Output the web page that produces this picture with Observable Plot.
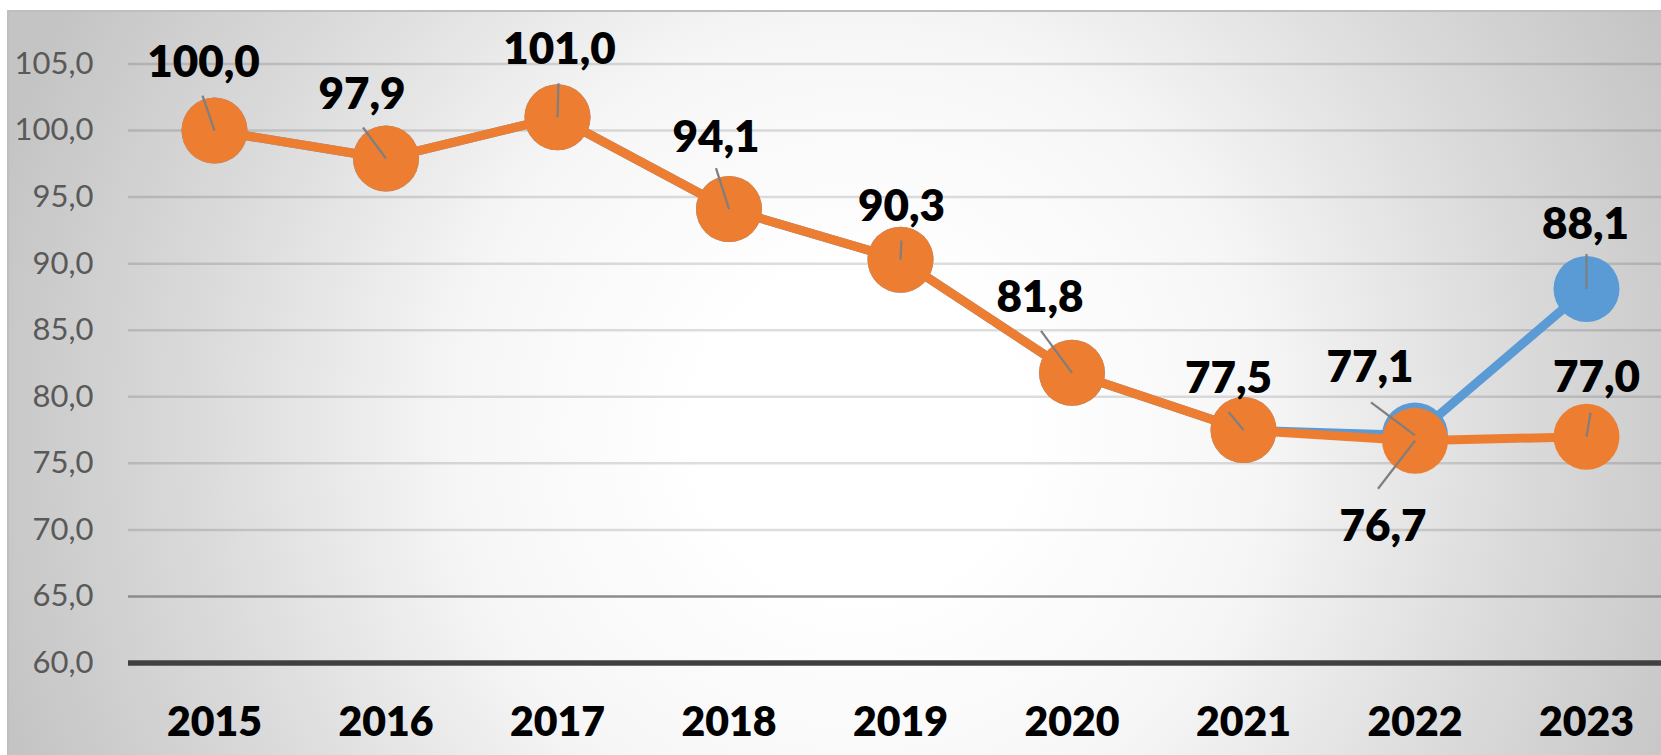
<!DOCTYPE html>
<html>
<head>
<meta charset="utf-8">
<script src="https://cdn.jsdelivr.net/npm/d3@7"></script>
<script src="https://cdn.jsdelivr.net/npm/@observablehq/plot@0.6"></script>
<style>
  html, body { margin: 0; padding: 0; background: #ffffff; }
  #wrap { position: relative; width: 1661px; height: 755px; overflow: hidden; background: #ffffff; }
  #bg {
    position: absolute; left: 7px; top: 10px; right: 0; bottom: 0;
    border-left: 2px solid #bfbfbf; border-top: 2px solid #bfbfbf;
    background: radial-gradient(circle 900px at 850px 420px, #ffffff 0%, #ffffff 18%, #f6f6f6 45%, #dcdcdc 72%, #c4c4c4 100%);
  }
  #chart { position: absolute; left: 0; top: 0; }
  svg { font-family: Lato, "Open Sans", sans-serif; }
</style>
</head>
<body>
<div id="wrap"><div id="bg"></div><div id="chart"></div></div>
<script>
// ---- data ----
const years = [2015, 2016, 2017, 2018, 2019, 2020, 2021, 2022, 2023];
const seriesBlue = [100.0, 97.9, 101.0, 94.1, 90.3, 81.8, 77.5, 77.1, 88.1];
const seriesOrange = [100.0, 97.9, 101.0, 94.1, 90.3, 81.8, 77.5, 76.7, 77.0];
const yTicks = [60, 65, 70, 75, 80, 85, 90, 95, 100, 105];

// ---- layout (pixel offsets of data labels and leader lines from each point) ----
const labelOffOrange = [[-11,-68],[-24,-64],[2,-67],[-13,-71],[1,-53],[-32,-75],[-15,-51],[-32,86],[10,-59]];
const leaderOrange   = [[-12,-35],[-23,-31],[1,-34],[-13,-41],[1,-19],[-31,-42],[-15,-18],[-37,48],[4,-24]];
const labelOffBlue   = [null,null,null,null,null,null,null,[-45,-67],[-1,-64]];
const leaderBlue     = [null,null,null,null,null,null,null,[-44,-33],[0,-35]];

const W = 1661, H = 755;
const mL = 128, mR = 0, mT = 63.5, mB = 92.5;
const xDomain = [2015, 2023], xRange = [214, 1586];
const yDomain = [60, 105];

const xs = Plot.scale({x: {type: "linear", domain: xDomain, range: xRange}});
const ys = Plot.scale({y: {type: "linear", domain: yDomain, range: [H - mB, mT]}});
const fmt = v => v.toFixed(1).replace(".", ",");

function build(values, labelOff, leader, series) {
  const pts = years.map((yr, i) => ({year: yr, value: values[i], series}));
  const labels = [], leaders = [];
  years.forEach((yr, i) => {
    if (!labelOff[i]) return;
    const px = xs.apply(yr), py = ys.apply(values[i]);
    labels.push({x: xs.invert(px + labelOff[i][0]), y: ys.invert(py + labelOff[i][1]), text: fmt(values[i])});
    leaders.push({x1: yr, y1: values[i], x2: xs.invert(px + leader[i][0]), y2: ys.invert(py + leader[i][1])});
  });
  return {pts, labels, leaders};
}
const blue = build(seriesBlue, labelOffBlue, leaderBlue, "blue");
const orange = build(seriesOrange, labelOffOrange, leaderOrange, "orange");

const BLUE = "#5B9BD5", ORANGE = "#ED7D31";

const plot = Plot.plot({
  width: W, height: H,
  marginLeft: mL, marginRight: mR, marginTop: mT, marginBottom: mB,
  style: {background: "transparent", overflow: "visible"},
  x: {type: "linear", domain: xDomain, range: xRange, axis: null},
  y: {type: "linear", domain: yDomain, axis: null},
  marks: [
    Plot.ruleY(yTicks.filter(t => t > 65), {stroke: "#000", strokeOpacity: 0.13, strokeWidth: 2.5}),
    Plot.ruleY([65], {stroke: "#8c8c8c", strokeWidth: 2.5}),
    Plot.ruleY([60], {stroke: "#404040", strokeWidth: 5.5}),
    Plot.text(yTicks, {x: null, y: d => d, frameAnchor: "left", dx: -35, textAnchor: "end", text: d => fmt(d),
      fontSize: 31, fill: "#595959", lineAnchor: "middle"}),
    Plot.text(years, {x: d => d, frameAnchor: "bottom", dy: 60, text: d => String(d),
      fontSize: 41, fontWeight: 800, fill: "#000", lineAnchor: "middle"}),
    Plot.line(blue.pts, {x: "year", y: "value", stroke: BLUE, strokeWidth: 9}),
    Plot.dot(blue.pts, {x: "year", y: "value", r: 33, fill: BLUE, stroke: "none"}),
    Plot.line(orange.pts, {x: "year", y: "value", stroke: ORANGE, strokeWidth: 9}),
    Plot.dot(orange.pts, {x: "year", y: "value", r: 33, fill: ORANGE, stroke: "none"}),
    Plot.link(blue.leaders.concat(orange.leaders), {x1: "x1", y1: "y1", x2: "x2", y2: "y2", stroke: "#7f7f7f", strokeWidth: 2.2}),
    Plot.text(blue.labels.concat(orange.labels), {x: "x", y: "y", text: "text", fontSize: 44, fontWeight: 800,
      fill: "#000", lineAnchor: "middle"})
  ]
});
document.getElementById("chart").appendChild(plot);
</script>
</body>
</html>
